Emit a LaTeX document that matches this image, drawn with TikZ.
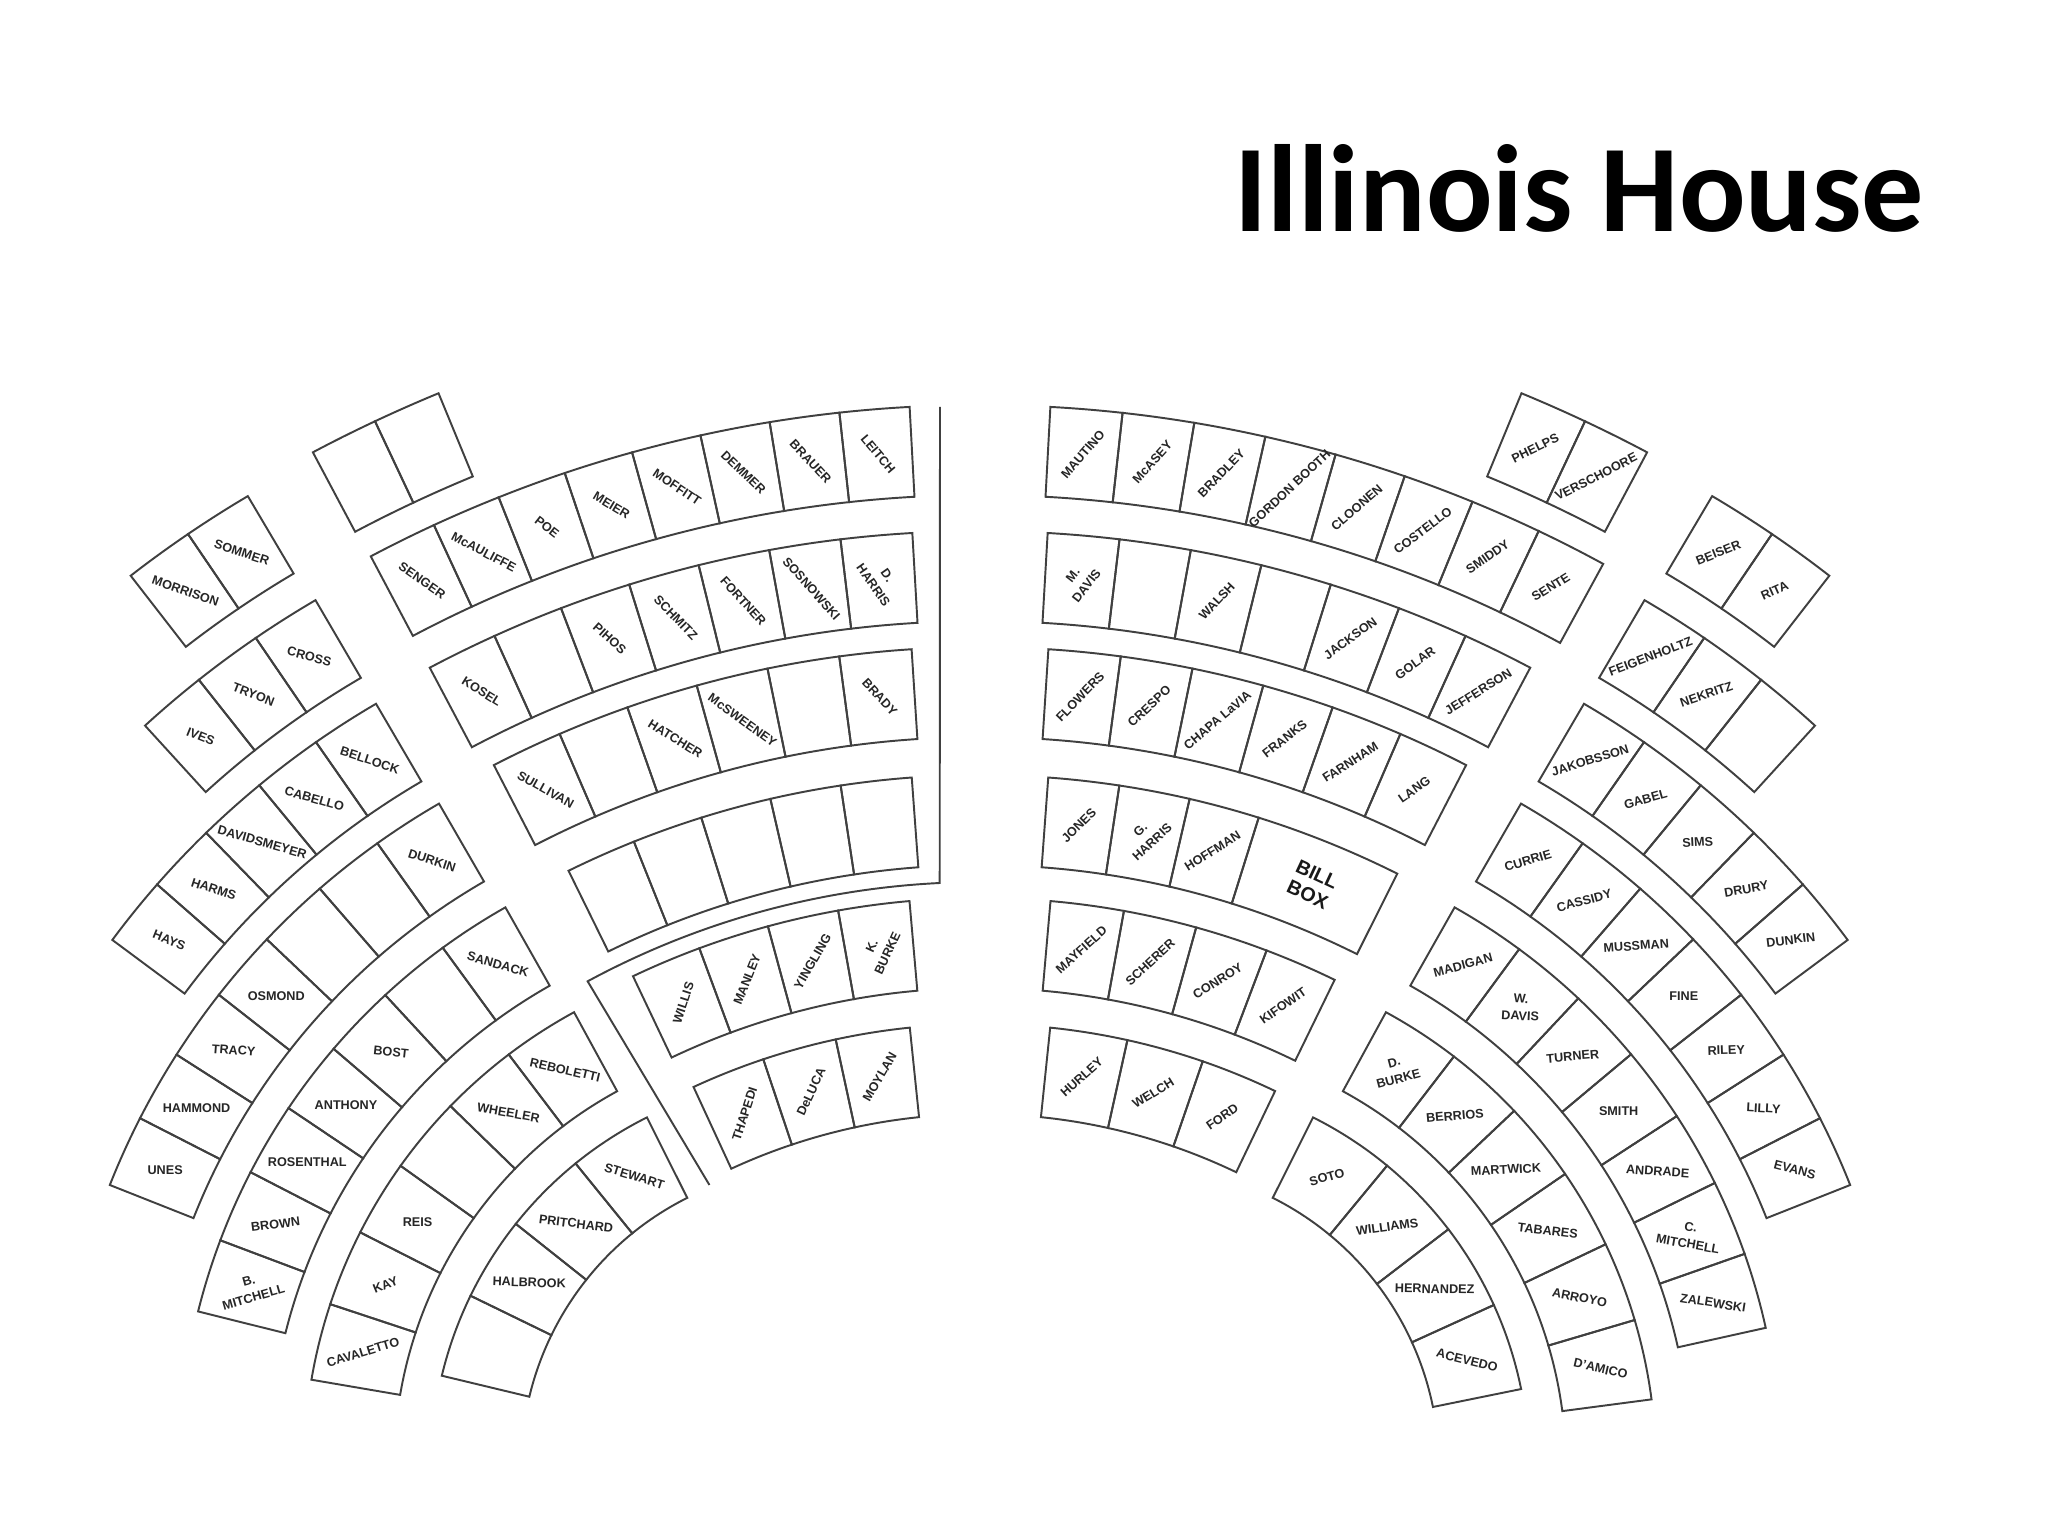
\documentclass[tikz,border=0pt]{standalone}
\usepackage{fontspec}
\setmainfont{Liberation Sans}
\newfontfamily\titlefont{Carlito}

\tikzset{
  seatline/.style={draw=black!75, line width=0.55pt},
  seatlabel/.style={font=\fontsize{3.6}{4.9}\selectfont\bfseries, text=black!85, align=center, inner sep=0pt},
  billlabel/.style={font=\fontsize{5.6}{6.4}\selectfont\bfseries, text=black!90, align=center, inner sep=0pt},
  titletext/.style={font=\titlefont\bfseries\fontsize{35.3}{40}\selectfont, anchor=base west, inner sep=0pt},
}

% \seatrow{prefix}{outer radius}{first angle}{last angle}{seats}{label/rotation list}
\newcommand{\seatrow}[6]{%
  \pgfmathsetmacro\rout{#2}
  \pgfmathsetmacro\rin{#2-0.9}
  \pgfmathsetmacro\rmid{#2-0.45}
  \pgfmathsetmacro\dtheta{(#4-#3)/#5}
  \foreach \lbl/\rot [count=\i] in {#6} {
    \pgfmathsetmacro\ta{90+#3+(\i-1)*\dtheta}
    \pgfmathsetmacro\tb{\ta+\dtheta}
    \pgfmathsetmacro\tc{\ta+0.5*\dtheta}
    \draw[seatline] (\ta:\rout) arc[start angle=\ta, end angle=\tb, radius=\rout]
      -- (\tb:\rin) arc[start angle=\tb, end angle=\ta, radius=\rin] -- cycle;
    \node[seatlabel, rotate=\rot] (#1-\i) at (\tc:\rmid) {\lbl};
  }%
}

\begin{document}
\begin{tikzpicture}
  \useasboundingbox (0,0) rectangle (20.48,15.36);
  \fill[white] (0,0) rectangle (20.48,15.36);

  % Title
  \node[titletext] (title) at (12.34,13.04) {Illinois House};

  % Left centre block
  \begin{scope}[shift={(9.8,-1.71)}]
    \seatrow{LA}{14.21}{22.4}{28.0}{2}{{}/0, {}/0}
    \seatrow{LB}{13.02}{3.1}{27.9}{8}{LEITCH/-50, BRAUER/-47, DEMMER/-44, MOFFITT/-34, MEIER/-31, POE/-38, McAULIFFE/-28, SENGER/-35}
    \seatrow{LC}{11.76}{3.3}{27.9}{7}{{D.\\HARRIS}/-55, SOSNOWSKI/-48, FORTNER/-48, SCHMITZ/-46, PIHOS/-42, {}/0, KOSEL/-32}
    \seatrow{LD}{10.60}{3.7}{27.3}{6}{BRADY/-47, {}/0, McSWEENEY/-36, HATCHER/-32, {}/0, SULLIVAN/-29}
    \seatrow{LE}{9.32}{4.2}{26.2}{5}{{}/0, {}/0, {}/0, {}/0, {}/0}
    \seatrow{LF}{8.09}{5.0}{25.4}{4}{{K.\\BURKE}/65, YINGLING/60, MANLEY/68, WILLIS/72}
    \seatrow{LG}{6.83}{5.9}{24.8}{3}{MOYLAN/60, DeLUCA/65, THAPEDI/72}
    % rail round the front rows
    \coordinate (railtop) at (-0.40,13.0);
    \coordinate (railend) at (117.4:5.88);
    \draw[seatline] (railtop) -- (92.8:8.25) arc[start angle=92.8, end angle=118.4, radius=8.25] -- (railend);
  \end{scope}

  % Left fan
  \begin{scope}[shift={(8.22,0.69)}]
    \seatrow{LH}{11.28}{30.6}{37.8}{2}{SOMMER/-18, MORRISON/-19}
    \seatrow{LI}{10.04}{30.3}{42.4}{3}{CROSS/-15, TRYON/-21, IVES/-22}
    \seatrow{LJ}{8.84}{30.3}{53.4}{5}{BELLOCK/-18, CABELLO/-16, DAVIDSMEYER/-16, HARMS/-18, HAYS/-22}
    \seatrow{LK}{7.66}{30.0}{68.4}{7}{DURKIN/-18, {}/0, {}/0, OSMOND/0, TRACY/-4, HAMMOND/0, UNES/0}
    \seatrow{LL}{6.43}{29.5}{76.0}{7}{SANDACK/-16, {}/0, BOST/-6, ANTHONY/0, ROSENTHAL/0, BROWN/7, {B.\\MITCHELL}/16}
    \seatrow{LM}{5.18}{28.6}{80.3}{6}{REBOLETTI/-13, WHEELER/-10, {}/0, REIS/0, KAY/22, CAVALETTO/17}
    \seatrow{LN}{3.91}{26.6}{76.5}{4}{STEWART/-17, PRITCHARD/-7, HALBROOK/-2, {}/0}
  \end{scope}

  % Right centre block
  \begin{scope}[shift={(9.8,-1.71)}, xscale=-1]
    \seatrow{RA}{14.21}{22.4}{28.0}{2}{PHELPS/26, VERSCHOORE/27}
    \seatrow{RB}{13.02}{3.1}{28.6}{8}{MAUTINO/49, McASEY/48, BRADLEY/46, {GORDON BOOTH}/43, CLOONEN/41, COSTELLO/37, SMIDDY/35, SENTE/32}
    \seatrow{RC}{11.76}{3.3}{27.9}{7}{{M.\\DAVIS}/52, {}/0, WALSH/47, {}/0, JACKSON/36, GOLAR/36, JEFFERSON/32}
    \seatrow{RD}{10.60}{3.7}{27.3}{6}{FLOWERS/46, CRESPO/43, {CHAPA LaVIA}/40, FRANKS/38, FARNHAM/33, LANG/35}
    \seatrow{RE}{9.32}{4.2}{17.4}{3}{JONES/45, {G.\\HARRIS}/43, HOFFMAN/32}
    \seatrow{RF}{9.32}{17.4}{26.6}{1}{{}/0}
    \node[billlabel, rotate=-25] (billbox) at (112:8.87) {BILL\\BOX};
    \seatrow{RG}{8.09}{5.0}{26.0}{4}{MAYFIELD/42, SCHERER/43, CONROY/32, KIFOWIT/35}
    \seatrow{RH}{6.83}{5.9}{25.6}{3}{HURLEY/42, WELCH/32, FORD/35}
  \end{scope}

  % Right fan
  \begin{scope}[shift={(11.38,0.69)}, xscale=-1]
    \seatrow{RI}{11.28}{30.6}{37.8}{2}{BEISER/22, RITA/24}
    \seatrow{RJ}{10.04}{30.3}{42.4}{3}{FEIGENHOLTZ/21, NEKRITZ/19, {}/0}
    \seatrow{RK}{8.84}{30.3}{53.4}{5}{JAKOBSSON/17, GABEL/16, SIMS/3, DRURY/10, DUNKIN/7}
    \seatrow{RL}{7.66}{30.0}{68.4}{7}{CURRIE/17, CASSIDY/15, MUSSMAN/4, FINE/0, RILEY/2, LILLY/-3, EVANS/-15}
    \seatrow{RM}{6.43}{29.5}{77.5}{7}{MADIGAN/15, {W.\\DAVIS}/-3, TURNER/5, SMITH/0, ANDRADE/-4, {C.\\MITCHELL}/-10, ZALEWSKI/-9}
    \seatrow{RN}{5.18}{28.6}{82.5}{6}{{D.\\BURKE}/15, BERRIOS/5, MARTWICK/3, TABARES/-7, ARROYO/-11, D'AMICO/-13}
    \seatrow{RO}{3.91}{26.6}{78.5}{4}{SOTO/16, WILLIAMS/8, HERNANDEZ/-1, ACEVEDO/-14}
  \end{scope}
\end{tikzpicture}
\end{document}
